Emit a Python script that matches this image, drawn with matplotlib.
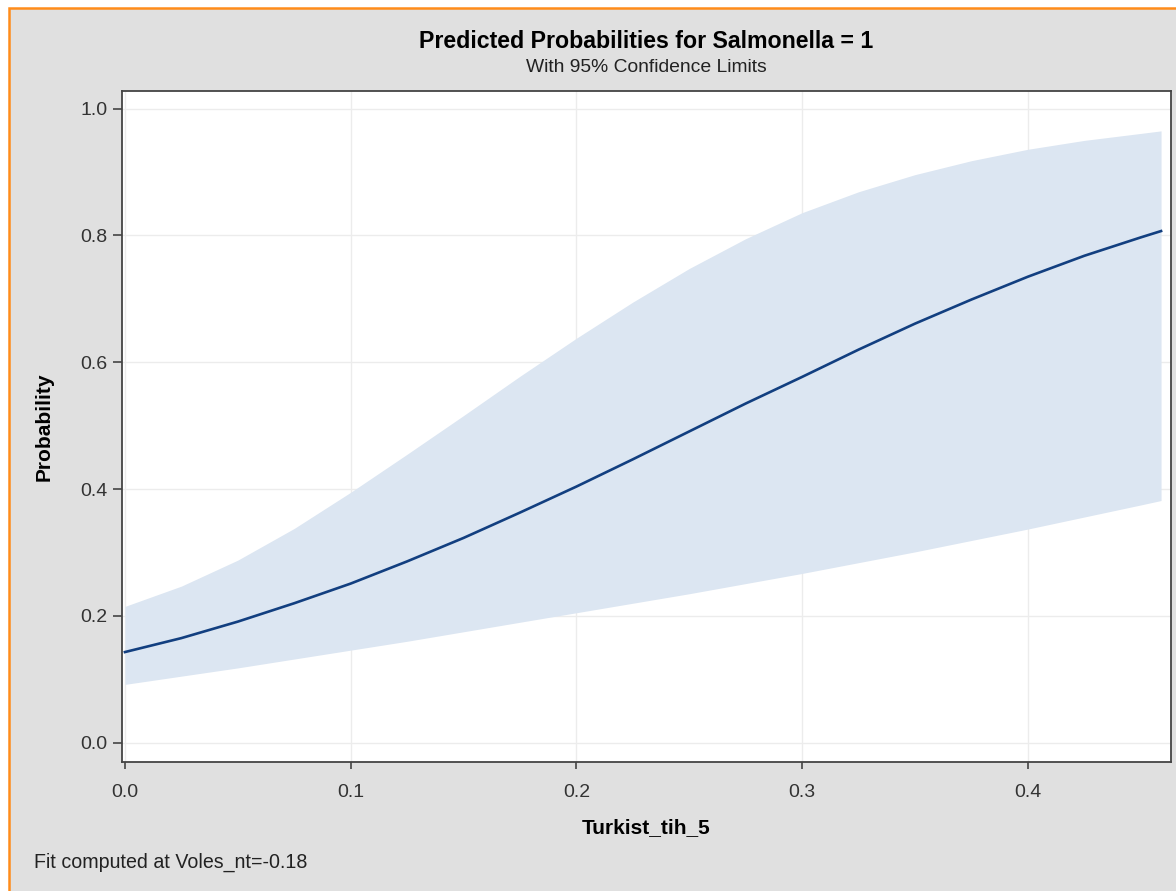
import matplotlib
matplotlib.use("Agg")
import matplotlib.pyplot as plt
from matplotlib.patches import Rectangle

plt.rcParams['font.family'] = ['Liberation Sans', 'DejaVu Sans']

# values
turkist = [0.0, 0.025, 0.05, 0.075, 0.1, 0.125, 0.15, 0.175, 0.2, 0.225,
           0.25, 0.275, 0.3, 0.325, 0.35, 0.375, 0.4, 0.425, 0.45, 0.459]
prob = [0.143, 0.165, 0.191, 0.220, 0.251, 0.286, 0.323, 0.363, 0.404, 0.447,
        0.491, 0.535, 0.577, 0.620, 0.661, 0.699, 0.735, 0.768, 0.797, 0.807]
upper = [0.215, 0.247, 0.288, 0.338, 0.395, 0.455, 0.516, 0.578, 0.638, 0.695,
         0.748, 0.795, 0.836, 0.869, 0.896, 0.918, 0.936, 0.950, 0.961, 0.965]
lower = [0.092, 0.105, 0.118, 0.132, 0.146, 0.160, 0.175, 0.190, 0.205, 0.220,
         0.235, 0.251, 0.267, 0.284, 0.301, 0.319, 0.337, 0.356, 0.375, 0.382]

xticks = [0.0, 0.1, 0.2, 0.3, 0.4]
yticks = [0.0, 0.2, 0.4, 0.6, 0.8, 1.0]

W, H = 1176, 891
fig = plt.figure(figsize=(W / 100, H / 100), dpi=100, facecolor='white')

# grey panel with orange border (left and top edges visible)
fig.patches.append(Rectangle((9 / W, -0.05), 1.1, 1 - 8 / H + 0.05,
                             transform=fig.transFigure, facecolor='#e0e0e0',
                             edgecolor='#ff8c1a', linewidth=1.8, zorder=-5))

ax = fig.add_axes([122 / W, 1 - 762 / H, (1171 - 122) / W, (762 - 91) / H])
ax.set_facecolor('white')

ax.fill_between(turkist, lower, upper, color='#dce6f2', linewidth=0, zorder=2)
ax.plot(turkist, prob, color='#123f80', linewidth=1.9, zorder=3)

ax.set_xlim(-0.0013, 0.4634)
ax.set_ylim(-0.0304, 1.0279)
ax.set_xticks(xticks)
ax.set_xticklabels(['%.1f' % v for v in xticks])
ax.set_yticks(yticks)
ax.set_yticklabels(['%.1f' % v for v in yticks])
ax.grid(True, color='#ececec', linewidth=1.0, zorder=1)
ax.set_axisbelow(True)

for s in ax.spines.values():
    s.set_color('#444444')
    s.set_linewidth(1.3)
ax.tick_params(axis='both', direction='out', color='#444444', width=1.2,
               labelsize=14, labelcolor='#333333')
ax.tick_params(axis='y', length=6.5, pad=4)
ax.tick_params(axis='x', length=5, pad=11)

ax.set_xlabel('Turkist_tih_5', fontsize=15, fontweight='bold', labelpad=12)
ax.set_ylabel('Probability', fontsize=15, fontweight='bold', labelpad=19)

cx = (122 + 1171) / 2 / W
fig.text(cx, 1 - 42 / H, 'Predicted Probabilities for Salmonella = 1',
         ha='center', va='center', fontsize=16.7, fontweight='bold')
fig.text(cx, 1 - 68 / H, 'With 95% Confidence Limits',
         ha='center', va='center', fontsize=13.9, color='#222222')
fig.text(34 / W, 1 - 862 / H, 'Fit computed at Voles_nt=-0.18',
         ha='left', va='center', fontsize=14.1, color='#222222')

fig.savefig('out.png', dpi=100, facecolor=fig.get_facecolor())
